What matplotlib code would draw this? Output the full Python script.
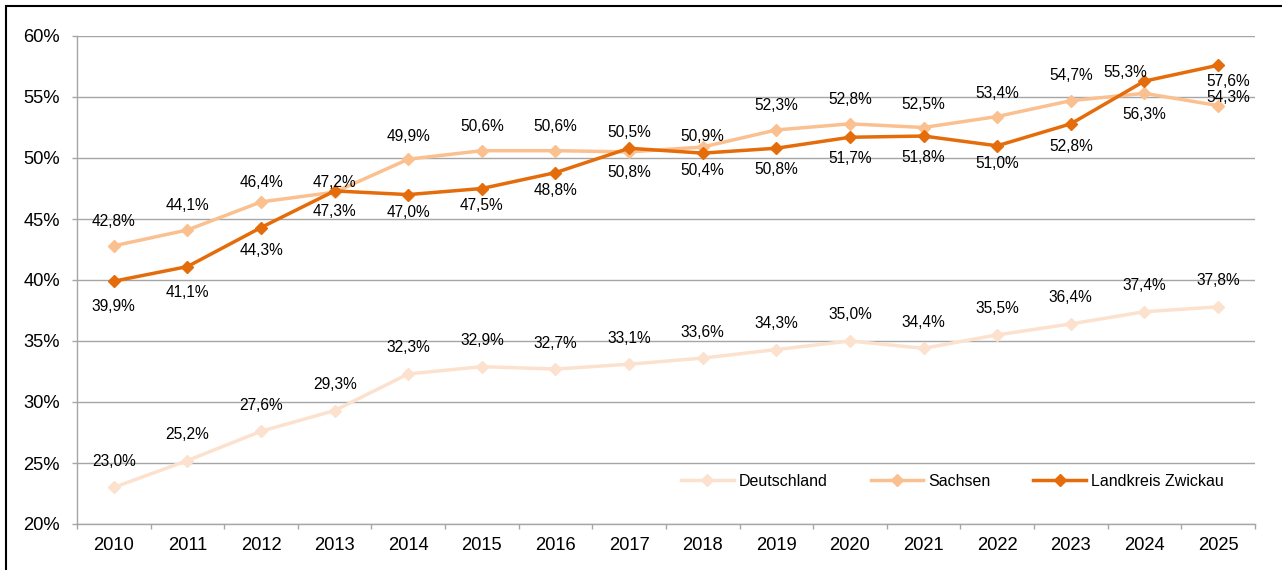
import matplotlib
matplotlib.use("Agg")
import matplotlib.pyplot as plt
from matplotlib.patches import Rectangle
from matplotlib.ticker import FuncFormatter, FixedLocator

plt.rcParams['font.family'] = ['Liberation Sans', 'DejaVu Sans']

years = [str(y) for y in range(2010, 2026)]
deutschland = [23.0, 25.2, 27.6, 29.3, 32.3, 32.9, 32.7, 33.1, 33.6, 34.3, 35.0, 34.4, 35.5, 36.4, 37.4, 37.8]
sachsen = [42.8, 44.1, 46.4, 47.2, 49.9, 50.6, 50.6, 50.5, 50.9, 52.3, 52.8, 52.5, 53.4, 54.7, 55.3, 54.3]
zwickau = [39.9, 41.1, 44.3, 47.3, 47.0, 47.5, 48.8, 50.8, 50.4, 50.8, 51.7, 51.8, 51.0, 52.8, 56.3, 57.6]
series_names = ["Deutschland", "Sachsen", "Landkreis Zwickau"]
colors = ["#FCE2CE", "#FAC090", "#E46C0A"]

# label offsets in pixels (dx, dy; dy positive = up)
off_de = [(0, 26)] * 16
off_sa_dy = [24, 24, 19, 10, 23, 24, 24, 19, 11, 24, 24, 23, 23, 25, 21, 8]
off_sa_dx = [0] * 14 + [-19, 10]
off_zw_dy = [-25, -26, -23, -21, -18, -17, -18, -24, -17, -21, -21, -21, -18, -23, -33, -16]
off_zw_dx = [0] * 15 + [10]

W, H = 1282, 570
fig = plt.figure(figsize=(W / 100, H / 100), dpi=100)
ax = fig.add_axes([77 / W, 46 / H, (1254.8 - 77) / W, (524 - 36) / H])

x = list(range(len(years)))
grid_c = "#A6A6A6"

for vals, name, c in zip([deutschland, sachsen, zwickau], series_names, colors):
    ax.plot(x, vals, color=c, lw=2.5, marker="D", ms=5.8, label=name,
            solid_joinstyle="miter", zorder=3)

px2pt = 0.72
def put_labels(vals, offsets):
    for i, (v, (dx, dy)) in enumerate(zip(vals, offsets)):
        ax.annotate(f"{v:.1f}%".replace(".", ","), (i, v), xytext=(dx * px2pt, dy * px2pt),
                    textcoords="offset points", ha="center", va="center",
                    fontsize=11.2, color="black", zorder=4)

put_labels(deutschland, off_de)
put_labels(sachsen, list(zip(off_sa_dx, off_sa_dy)))
put_labels(zwickau, list(zip(off_zw_dx, off_zw_dy)))

ax.set_xlim(-0.5, len(years) - 0.5)
ax.set_ylim(20, 60)
ax.set_yticks(range(20, 61, 5))
ax.yaxis.set_major_formatter(FuncFormatter(lambda v, p: f"{int(v)}%"))
ax.set_xticks(x)
ax.set_xticklabels(years)
ax.xaxis.set_minor_locator(FixedLocator([i - 0.5 for i in range(len(years) + 1)]))
ax.tick_params(axis="x", which="major", length=0, pad=9, labelsize=13.2)
ax.tick_params(axis="x", which="minor", length=3.6, color=grid_c, width=1)
ax.tick_params(axis="y", length=3.6, color=grid_c, width=1, pad=8.6, labelsize=13.2)

ax.grid(axis="y", color=grid_c, lw=1, zorder=0)
ax.set_axisbelow(True)
for s in ["top", "right"]:
    ax.spines[s].set_visible(False)
for s in ["left", "bottom"]:
    ax.spines[s].set_color(grid_c)
    ax.spines[s].set_linewidth(1)

leg = ax.legend(loc="center left", bbox_to_anchor=(681 / W, 1 - 481 / H),
                bbox_transform=fig.transFigure, ncol=3, frameon=False,
                fontsize=11.5, handlelength=3.3, handletextpad=0.3,
                columnspacing=2.7, borderpad=0, borderaxespad=0)

fig.patches.append(Rectangle((6 / W, -0.1), 2.0, (H - 6) / H + 0.1,
                             transform=fig.transFigure, fill=False,
                             edgecolor="black", lw=1.5, figure=fig))

fig.savefig("out.png", dpi=100)
